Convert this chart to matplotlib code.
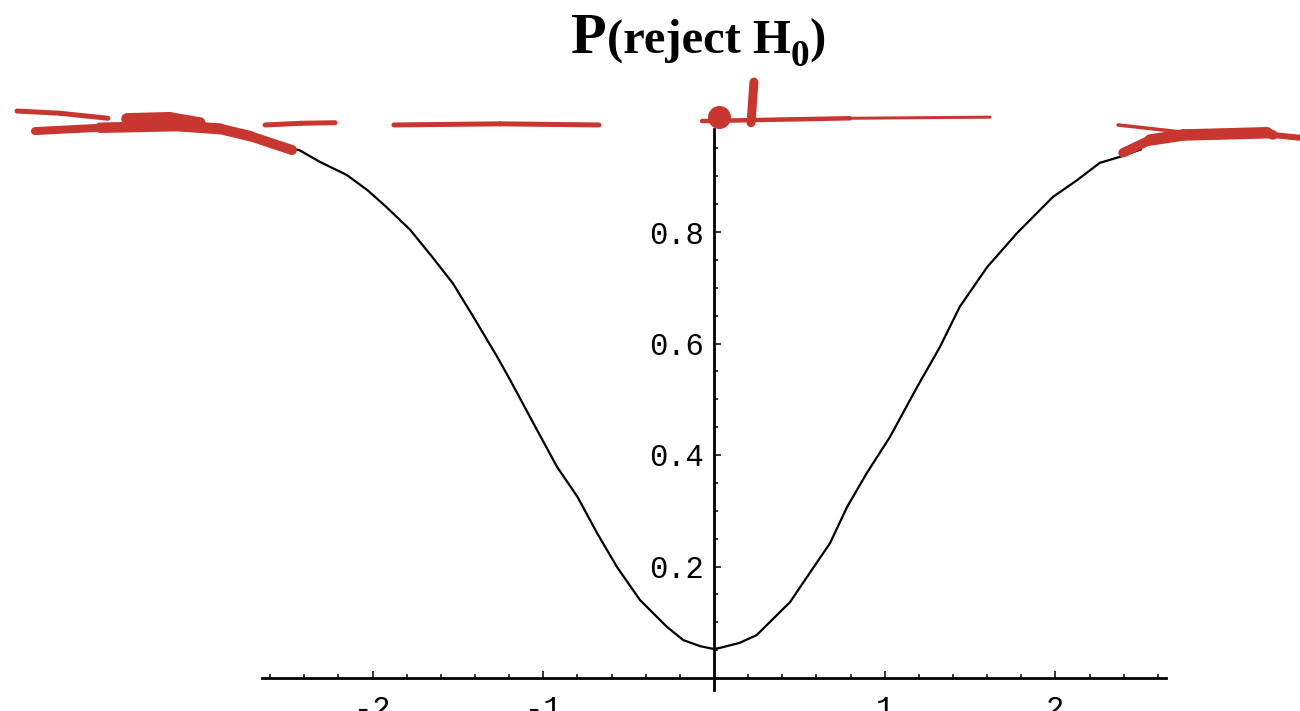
#!/usr/bin/env python3
"""Power curve of a two-sided test: P(reject H0) against the true effect,
with the significance line marked by hand-style red strokes near the top."""

import matplotlib
matplotlib.use("Agg")
import matplotlib.pyplot as plt
import numpy as np

# power curve (effect, probability of rejecting H0)
effect = [-2.50, -2.43, -2.31, -2.15, -2.03, -1.92, -1.78, -1.65, -1.53,
          -1.41, -1.27, -1.195, -1.037, -0.92, -0.80, -0.685, -0.568,
          -0.434, -0.275, -0.18, -0.08, 0.0, 0.035, 0.15, 0.25, 0.445,
          0.56, 0.68, 0.78, 0.896, 1.03, 1.19, 1.324, 1.44, 1.60, 1.775,
          1.986, 2.127, 2.26, 2.38, 2.50]
p_reject = [0.950, 0.947, 0.926, 0.902, 0.875, 0.845, 0.804, 0.755, 0.708,
            0.648, 0.576, 0.535, 0.445, 0.379, 0.325, 0.260, 0.199,
            0.140, 0.0915, 0.068, 0.057, 0.052, 0.054, 0.063, 0.077, 0.136,
            0.188, 0.242, 0.307, 0.368, 0.432, 0.522, 0.594, 0.666, 0.737,
            0.798, 0.863, 0.893, 0.924, 0.935, 0.948]

x_major = [-2, -1, 1, 2]
x_labels = ["-2", "-1", "1", "2"]
y_major = [0.2, 0.4, 0.6, 0.8]
y_labels = ["0.2", "0.4", "0.6", "0.8"]

# red marker strokes: (x, y, width_px) per vertex
strokes = [
    ([-4.083, -3.831, -3.550], [1.017, 1.013, 1.004], [3, 7, 3]),
    ([-3.978, -3.597, -3.128, -2.894, -2.718, -2.472],
     [0.981, 0.987, 0.990, 0.985, 0.972, 0.947], [6, 10, 11, 11, 10, 10]),
    ([-3.439, -3.187, -3.011], [1.003, 1.005, 0.996], [9, 14, 8]),
    ([-2.630, -2.420, -2.220], [0.992, 0.995, 0.996], [3, 7, 3]),
    ([-1.875, -1.254, -0.674], [0.992, 0.994, 0.992], [3, 7, 3]),
    ([-0.070, 0.797, 1.617], [0.999, 1.004, 1.006], [5, 4, 2]),
    ([0.234, 0.217], [1.069, 0.996], [9, 9]),
    ([2.367, 2.748], [0.992, 0.979], [2, 5]),
    ([2.396, 2.554, 2.748, 3.240, 3.275, 3.433],
     [0.942, 0.965, 0.974, 0.978, 0.974, 0.969], [8, 11, 12, 11, 8, 4]),
]
dot_x, dot_y = [0.029], [1.007]

RED = "#c8372f"
W, H = 1300, 711
PX = 72 / 100  # points per pixel at dpi=100

fig = plt.figure(figsize=(W / 100, H / 100), dpi=100)
ax = fig.add_axes([0, 0, 1, 1])

# axes cross at the origin, data range laid out to fill the canvas
ax.set_xlim(-714 / 170.7, (W - 714) / 170.7)
ax.set_ylim(-33 / 557.5, 678 / 557.5)
for side in ("top", "right"):
    ax.spines[side].set_visible(False)
ax.spines["left"].set_position(("data", 0))
ax.spines["bottom"].set_position(("data", 0))
ax.spines["left"].set_bounds(-0.022, 0.985)
ax.spines["bottom"].set_bounds(-2.65, 2.645)
for side in ("left", "bottom"):
    ax.spines[side].set_linewidth(2.0)

ax.set_xticks(x_major)
ax.set_xticklabels(x_labels)
ax.set_xticks([v for v in np.round(np.arange(-2.6, 2.61, 0.2), 2)
               if v not in (-2, -1, 0, 1, 2)], minor=True)
ax.set_yticks(y_major)
ax.set_yticklabels(y_labels)
ax.set_yticks([v for v in np.round(np.arange(0.05, 0.96, 0.05), 2)
               if v not in y_major], minor=True)
ax.tick_params(which="both", direction="in", width=1.1, color="black",
               labelsize=22, labelfontfamily="Liberation Mono")
ax.tick_params(which="major", length=5)
ax.tick_params(which="minor", length=3)
ax.tick_params(axis="x", which="both", pad=12)
ax.tick_params(axis="y", which="both", pad=7)
ax.patch.set_visible(False)

ax.plot(effect, p_reject, color="black", lw=1.6, solid_joinstyle="miter")

# hand-drawn red marks over the top of the plot
for xs, ys, ws in strokes:
    for i in range(len(xs) - 1):
        ax.plot(xs[i:i + 2], ys[i:i + 2], color=RED,
                lw=0.5 * (ws[i] + ws[i + 1]) * PX,
                solid_capstyle="round", clip_on=False, zorder=5)
ax.plot(dot_x, dot_y, "o", color=RED, ms=23 * PX, mec="none",
        clip_on=False, zorder=5)

# title with a larger leading P and a subscript 0
renderer = fig.canvas.get_renderer()
x_px = 571
base_px = H - 53
for txt, size, dy in [("P", 42, 0), ("(reject H", 35, 0),
                      ("0", 27, -13), (")", 35, 0)]:
    t = fig.text(x_px / W, (base_px + dy) / H, txt, fontsize=size,
                 fontweight="bold", family="Liberation Serif",
                 ha="left", va="baseline")
    x_px = t.get_window_extent(renderer).x1

fig.savefig("out.png", dpi=100)
